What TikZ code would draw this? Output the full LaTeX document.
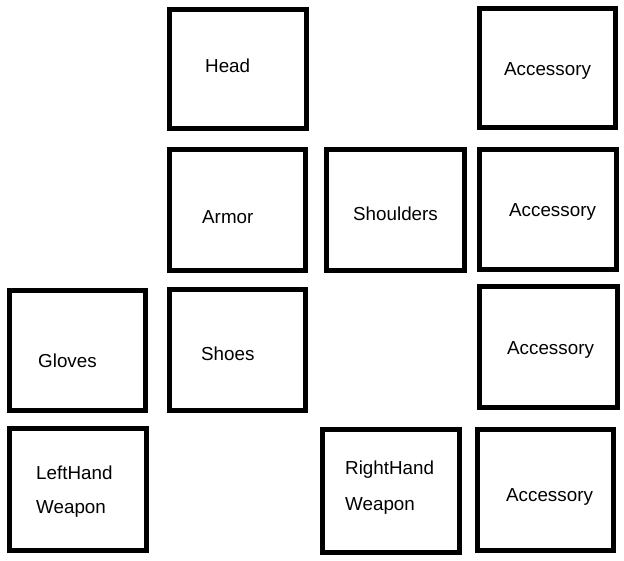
\documentclass[tikz,border=0pt]{standalone}
\usepackage{fontspec}
\setmainfont{Liberation Sans}
\begin{document}
\begin{tikzpicture}[x=1pt,y=-1pt,
  slotbox/.style={draw=black,line width=5pt,rectangle,inner sep=0pt,fill=white},
  slottext/.style={anchor=base west,inner sep=0pt,font=\fontsize{18.8}{19}\selectfont}]
\useasboundingbox[fill=white] (0,0) rectangle (624,561);
% boxes
\node[slotbox,minimum width=137pt,minimum height=119pt] (head) at (238,69) {};
\node[slotbox,minimum width=136pt,minimum height=119pt] (acc1) at (547.5,68) {};
\node[slotbox,minimum width=136pt,minimum height=121pt] (armor) at (237.5,210) {};
\node[slotbox,minimum width=138pt,minimum height=121pt] (shoulders) at (395.5,210) {};
\node[slotbox,minimum width=137pt,minimum height=120pt] (acc2) at (548,209.5) {};
\node[slotbox,minimum width=136pt,minimum height=120pt] (gloves) at (77.5,350.5) {};
\node[slotbox,minimum width=136pt,minimum height=121pt] (shoes) at (237.5,350) {};
\node[slotbox,minimum width=138pt,minimum height=121pt] (acc3) at (548.5,347) {};
\node[slotbox,minimum width=137pt,minimum height=122pt] (lefthand) at (78,489.5) {};
\node[slotbox,minimum width=137pt,minimum height=123pt] (righthand) at (391,491) {};
\node[slotbox,minimum width=136pt,minimum height=121pt] (acc4) at (545.5,490) {};
% texts
\node[slottext] (thead) at (205,73) {Head};
\node[slottext] (tacc1) at (504,76) {Accessory};
\node[slottext] (tarmor) at (202,224) {Armor};
\node[slottext] (tshoulders) at (353,221) {Shoulders};
\node[slottext] (tacc2) at (509,217) {Accessory};
\node[slottext] (tgloves) at (38,367) {Gloves};
\node[slottext] (tshoes) at (201,361) {Shoes};
\node[slottext] (tacc3) at (507,355) {Accessory};
\node[slottext] (tleft1) at (36,479) {LeftHand};
\node[slottext] (tleft2) at (36,513) {Weapon};
\node[slottext] (tright1) at (345,474) {RightHand};
\node[slottext] (tright2) at (345,510) {Weapon};
\node[slottext] (tacc4) at (506,501) {Accessory};
\end{tikzpicture}
\end{document}
